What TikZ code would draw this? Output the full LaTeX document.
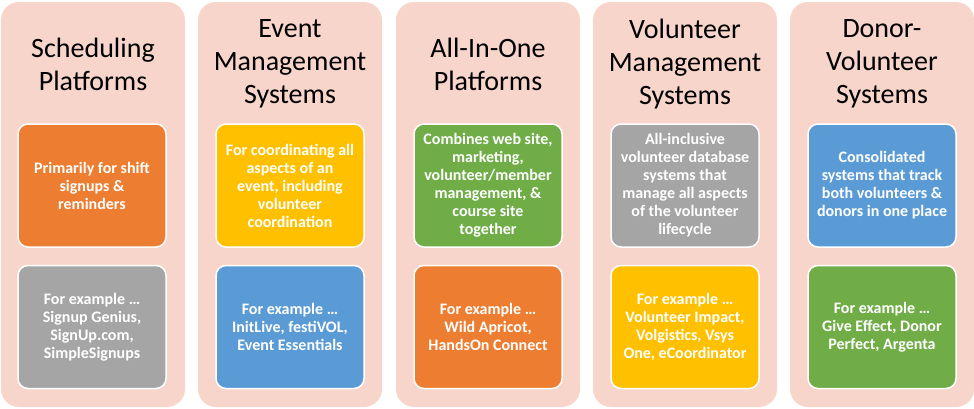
\documentclass[tikz,border=0pt]{standalone}
\usepackage{fontspec}
\setmainfont{Carlito}
\definecolor{panelpink}{HTML}{F7D5CB}
\definecolor{acorange}{HTML}{ED7D31}
\definecolor{acgray}{HTML}{A5A5A5}
\definecolor{acyellow}{HTML}{FFC000}
\definecolor{acblue}{HTML}{5B9BD5}
\definecolor{acgreen}{HTML}{70AD47}
\begin{document}
\begin{tikzpicture}[
  x=1pt, y=-1pt,
  panel/.style={rectangle, rounded corners=18pt, fill=panelpink, inner sep=0pt, minimum width=184pt, minimum height=405pt},
  head/.style={align=center, font=\fontsize{28}{33}\selectfont},
  card/.style={rectangle, rounded corners=10pt, draw=white, line width=1.5pt, inner sep=0pt, minimum width=148pt, minimum height=123pt, align=center, text=white, font=\bfseries\fontsize{16}{18}\selectfont}
]
  \useasboundingbox (0,0) rectangle (974,408);
  % panels
  \node[panel] (p1) at (93, 204.5) {};
  \node[panel] (p2) at (290, 204.5) {};
  \node[panel] (p3) at (488, 204.5) {};
  \node[panel] (p4) at (685, 204.5) {};
  \node[panel] (p5) at (882, 204.5) {};
  % headings
  \node[head] (h1) at (93, 64) {Scheduling\\Platforms};
  \node[head] (h2) at (290, 64) {Event\\Management\\Systems};
  \node[head] (h3) at (488, 64) {All-In-One\\Platforms};
  \node[head] (h4) at (685, 64) {Volunteer\\Management\\Systems};
  \node[head] (h5) at (882, 64) {Donor-\\Volunteer\\Systems};
  % upper cards
  \node[card, fill=acorange] (d1) at (92, 185.5) {Primarily for shift\\signups \&\\reminders};
  \node[card, fill=acyellow] (d2) at (290, 185.5) {For coordinating all\\aspects of an\\event, including\\volunteer\\coordination};
  \node[card, fill=acgreen]  (d3) at (488, 185.5) {Combines web site,\\marketing,\\volunteer/member\\management, \&\\course site\\together};
  \node[card, fill=acgray]   (d4) at (685, 185.5) {All-inclusive\\volunteer database\\systems that\\manage all aspects\\of the volunteer\\lifecycle};
  \node[card, fill=acblue]   (d5) at (882, 185.5) {Consolidated\\systems that track\\both volunteers \&\\donors in one place};
  % lower cards
  \node[card, fill=acgray]   (e1) at (92, 327) {For example \dots\\Signup Genius,\\SignUp.com,\\SimpleSignups};
  \node[card, fill=acblue]   (e2) at (290, 327) {For example \dots\\InitLive, festiVOL,\\Event Essentials};
  \node[card, fill=acorange] (e3) at (488, 327) {For example \dots\\Wild Apricot,\\HandsOn Connect};
  \node[card, fill=acyellow] (e4) at (685, 327) {For example \dots\\Volunteer Impact,\\Volgistics, Vsys\\One, eCoordinator};
  \node[card, fill=acgreen]  (e5) at (882, 327) {For example \dots\\Give Effect, Donor\\Perfect, Argenta};
\end{tikzpicture}
\end{document}
